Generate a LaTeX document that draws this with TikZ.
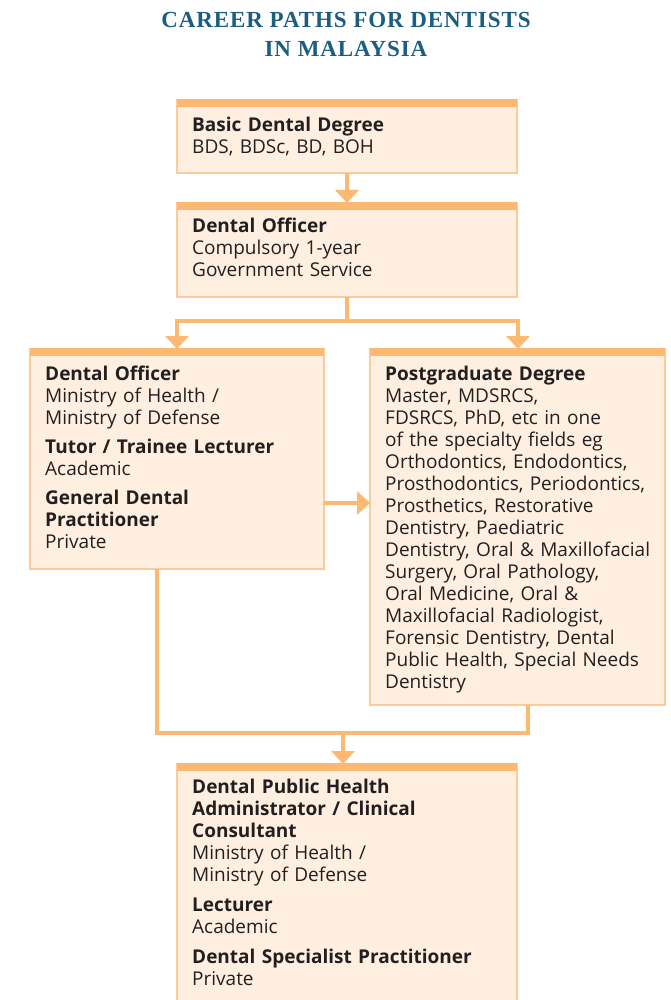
\documentclass[tikz,border=0pt]{standalone}
\usepackage{fontspec}
\setmainfont{Open Sans}
\newfontfamily\titlefont[LetterSpace=4]{Liberation Serif}
\usetikzlibrary{arrows.meta}
\definecolor{barc}{HTML}{FDB972}
\definecolor{fillc}{HTML}{FEEFE1}
\definecolor{edgec}{HTML}{FCCB9C}
\definecolor{titlec}{HTML}{1B5E80}
\definecolor{textc}{HTML}{231F20}
\begin{document}
\begin{tikzpicture}[x=1pt,y=-1pt,
  box/.style={draw=edgec, fill=fillc, line width=1.2pt, inner sep=0pt, outer sep=0pt, anchor=north west},
  bar/.style={fill=barc},
  conn/.style={draw=barc, line width=4pt},
  tipped/.style={conn, -{Triangle[width=23pt,length=13pt]}},
  body/.style={anchor=base west, inner sep=0pt, align=left, font=\fontsize{19}{22}\selectfont, text=textc},
  ttl/.style={anchor=base, inner sep=0pt, text=titlec, font=\titlefont\bfseries\fontsize{23}{27}\selectfont}
]
\clip (0,0) rectangle (670,1000);
\fill[white] (0,0) rectangle (670,1000);

% title
\node[ttl] (title1) at (346,28) {CAREER PATHS FOR DENTISTS};
\node[ttl] (title2) at (346,57) {IN MALAYSIA};

% boxes
\node[box, minimum width=340pt, minimum height=73pt] (b1) at (177,100) {};
\node[box, minimum width=340pt, minimum height=94pt] (b2) at (177,203) {};
\node[box, minimum width=294pt, minimum height=220pt] (lb) at (30,349) {};
\node[box, minimum width=295pt, minimum height=356pt] (rb) at (370,349) {};
\node[box, minimum width=340pt, minimum height=300pt] (bb) at (177,764) {};

% top bars
\foreach \b in {b1,b2,lb,rb,bb}{
  \fill[bar] ([yshift=0.6pt]\b.north west) rectangle ([yshift=-7pt]\b.north east);
}

% texts
\node[body, text width=310pt] (t1) at (192,132) {\textbf{Basic Dental Degree}\\BDS, BDSc, BD, BOH};
\node[body, text width=310pt] (t2) at (192,233) {\textbf{Dental Officer}\\Compulsory 1-year\\Government Service};
\node[body, text width=270pt] (tl) at (45,380) {\textbf{Dental Officer}\\Ministry of Health /\\Ministry of Defense\\[7pt]
  \textbf{Tutor / Trainee Lecturer}\\Academic\\[7pt]
  \textbf{General Dental}\\\textbf{Practitioner}\\Private};
\node[body, text width=280pt] (tr) at (385,380) {\textbf{Postgraduate Degree}\\Master, MDSRCS,\\FDSRCS, PhD, etc in one\\of the specialty fields eg\\Orthodontics, Endodontics,\\Prosthodontics, Periodontics,\\Prosthetics, Restorative\\Dentistry, Paediatric\\Dentistry, Oral \& Maxillofacial\\Surgery, Oral Pathology,\\Oral Medicine, Oral \&\\Maxillofacial Radiologist,\\Forensic Dentistry, Dental\\Public Health, Special Needs\\Dentistry};
\node[body, text width=310pt] (tb) at (192,793) {\textbf{Dental Public Health}\\\textbf{Administrator / Clinical}\\\textbf{Consultant}\\Ministry of Health /\\Ministry of Defense\\[8pt]
  \textbf{Lecturer}\\Academic\\[8pt]
  \textbf{Dental Specialist Practitioner}\\Private};

% connectors
\draw[tipped] (b1.south) -- (b2.north);
\draw[conn] (b2.south) -- ++(0,24) coordinate (split);
\draw[tipped] (split) -| ([xshift=147pt]lb.north west);
\draw[tipped] (split) -| ([xshift=148pt]rb.north west);
\coordinate (ha) at ([yshift=-44pt]lb.east);
\draw[tipped] (ha) -- (ha -| rb.west);
\draw[conn] ([xshift=127pt]lb.south west) -- ++(0,164) coordinate (merge) -| ([xshift=158pt]rb.south west);
\coordinate (bx) at ([xshift=166pt]bb.north west);
\draw[tipped] (bx |- merge) -- (bx);
\end{tikzpicture}
\end{document}
